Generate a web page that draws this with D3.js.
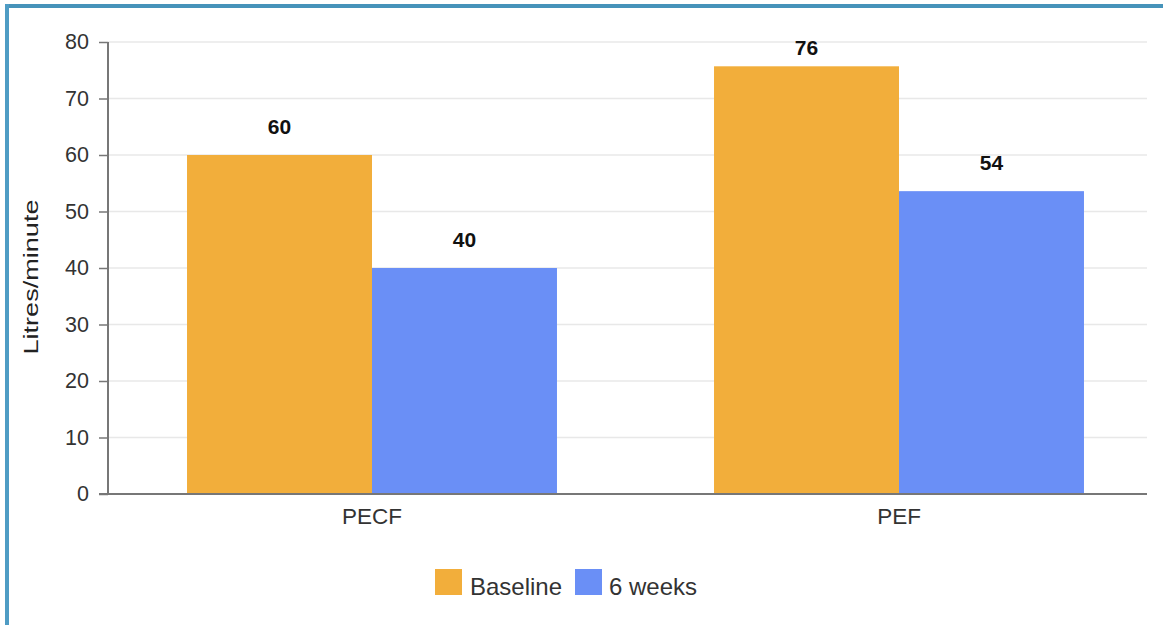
<!DOCTYPE html>
<html>
<head>
<meta charset="utf-8">
<script src="https://cdn.jsdelivr.net/npm/d3@7"></script>
<style>
  html, body { margin: 0; padding: 0; background: #fff; }
  svg { display: block; font-family: "Liberation Sans", Arial, Helvetica, sans-serif; }
</style>
</head>
<body>
<svg id="chart" width="1163" height="625"></svg>
<script>
const categories = ["PECF", "PEF"];
const seriesNames = ["Baseline", "6 weeks"];
const baselineValues = [60, 75.7];
const sixWeekValues = [40, 53.6];
const valueLabels = [["60", "40"], ["76", "54"]];
const yTicks = [0, 10, 20, 30, 40, 50, 60, 70, 80];
const colors = ["#F2AE3B", "#6A8FF6"];
const yTitle = "Litres/minute";

const svg = d3.select("#chart");
const W = 1163, H = 625;

// frame border (top and left)
svg.append("rect").attr("x", 0).attr("y", 0).attr("width", W).attr("height", H).attr("fill", "#fff");
svg.append("rect").attr("x", 5).attr("y", 4).attr("width", W - 5).attr("height", 4).attr("fill", "#4693ba");
svg.append("rect").attr("x", 5).attr("y", 4).attr("width", 4).attr("height", H - 4).attr("fill", "#4f9cc4");

const plot = { left: 108, right: 1147, top: 42, bottom: 494 };

const y = d3.scaleLinear().domain([0, 80]).range([plot.bottom, plot.top]);
const x0 = d3.scaleBand().domain(categories).range([108.5, 1162.5]).paddingInner(0.298).paddingOuter(0.149);
const x1 = d3.scaleBand().domain(seriesNames).range([0, x0.bandwidth()]);

// grid
svg.append("g").selectAll("line").data(yTicks.filter(t => t > 0)).join("line")
  .attr("x1", plot.left).attr("x2", plot.right)
  .attr("y1", d => y(d)).attr("y2", d => y(d))
  .attr("stroke", "#e8e8e8").attr("stroke-width", 1.5);

// bars
const rows = categories.map((c, i) => ({ cat: c, vals: [baselineValues[i], sixWeekValues[i]], labels: valueLabels[i] }));
const groups = svg.append("g").selectAll("g").data(rows).join("g")
  .attr("transform", d => `translate(${x0(d.cat)},0)`);
groups.selectAll("rect").data(d => d.vals.map((v, j) => ({ s: seriesNames[j], v, j }))).join("rect")
  .attr("x", d => x1(d.s)).attr("width", x1.bandwidth())
  .attr("y", d => y(d.v)).attr("height", d => y(0) - y(d.v))
  .attr("fill", d => colors[d.j]);

// value labels
groups.selectAll("text").data(d => d.vals.map((v, j) => ({ s: seriesNames[j], v, t: d.labels[j] }))).join("text")
  .attr("x", d => x1(d.s) + x1.bandwidth() / 2)
  .attr("y", d => Math.max(y(d.v) - 21, y(80) + 13))
  .attr("text-anchor", "middle")
  .attr("font-size", 21).attr("font-weight", "bold").attr("fill", "#111")
  .text(d => d.t);

// y axis
const yAxis = d3.axisLeft(y).tickValues(yTicks).tickSize(9).tickPadding(10);
const gy = svg.append("g").attr("transform", `translate(${plot.left},0)`).call(yAxis);
gy.select(".domain").attr("stroke", "#777").attr("stroke-width", 2).attr("d", `M0,${plot.top}V${plot.bottom}`);
gy.selectAll(".tick line").attr("stroke", "#777").attr("stroke-width", 1.5);
gy.selectAll(".tick text").attr("font-size", 21.5).attr("fill", "#333").attr("font-family", "'Liberation Sans', Arial, sans-serif");

// x axis
const xAxis = d3.axisBottom(x0).tickSize(0).tickPadding(14);
const gx = svg.append("g").attr("transform", `translate(0,${plot.bottom})`).call(xAxis);
gx.select(".domain").attr("stroke", "#777").attr("stroke-width", 2).attr("d", `M${plot.left - 9},0H${plot.right}`);
gx.selectAll(".tick text").attr("font-size", 22.5).attr("fill", "#333").attr("font-family", "'Liberation Sans', Arial, sans-serif");

// y title
svg.append("text")
  .attr("transform", `translate(38,277) rotate(-90)`)
  .attr("text-anchor", "middle")
  .attr("font-size", 21).attr("fill", "#222")
  .attr("textLength", 155).attr("lengthAdjust", "spacingAndGlyphs")
  .text(yTitle);

// legend
const legend = svg.append("g");
const legendItems = [{ n: seriesNames[0], x: 435, tx: 470 }, { n: seriesNames[1], x: 575, tx: 609 }];
legendItems.forEach((d, i) => {
  legend.append("rect").attr("x", d.x).attr("y", 569).attr("width", 27).attr("height", 26).attr("fill", colors[i]);
  legend.append("text").attr("x", d.tx).attr("y", 595).attr("font-size", 24).attr("fill", "#333").text(d.n);
});
</script>
</body>
</html>
